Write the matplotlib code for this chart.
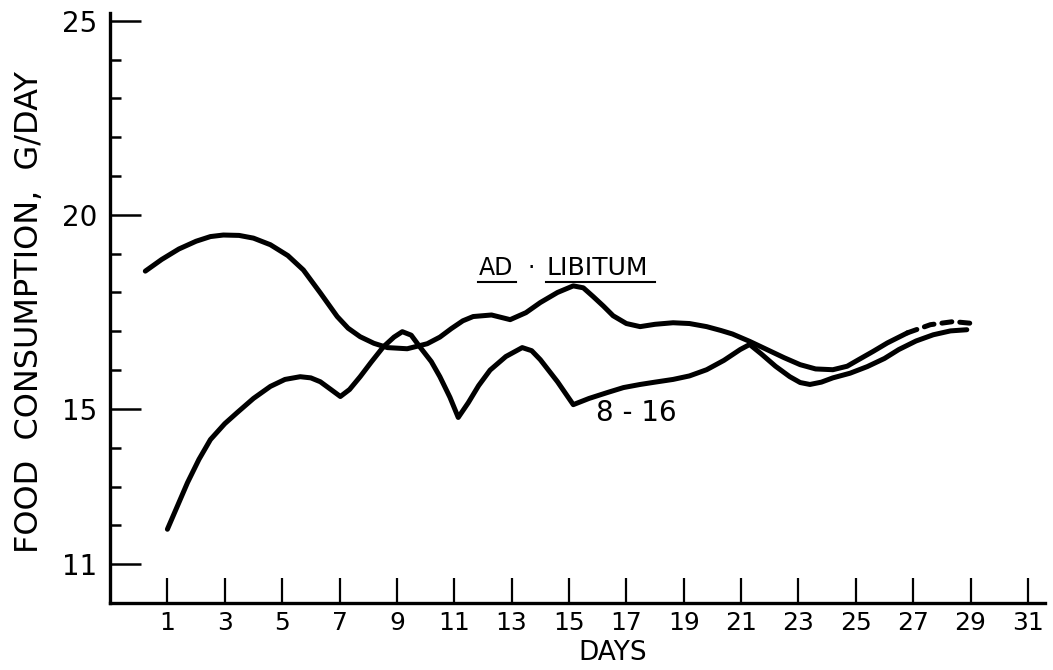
"""
Food consumption per day: ad libitum vs 8-16 feeding.
"""
import matplotlib.pyplot as plt

# values
adlib_days = [0.23, 0.8, 1.4, 2.0, 2.5, 2.95, 3.5, 4.0, 4.59, 5.2, 5.74, 6.33,
              6.92, 7.3, 7.72, 8.2, 8.67, 9.36, 10.06, 10.5, 10.9, 11.3, 11.66,
              12.3, 12.95, 13.5, 14.0, 14.6, 15.15, 15.5, 15.85, 16.2, 16.54,
              17.0, 17.48, 18.0, 18.63, 19.2, 19.8, 20.3, 20.7, 21.3, 21.9, 22.5,
              23.06, 23.6, 24.2, 24.7, 25.1, 25.6, 26.1, 26.8]
adlib_vals = [18.55, 18.85, 19.12, 19.32, 19.44, 19.48, 19.47, 19.40, 19.23, 18.95,
              18.58, 17.99, 17.38, 17.08, 16.86, 16.69, 16.58, 16.55, 16.68, 16.85,
              17.07, 17.27, 17.38, 17.42, 17.30, 17.48, 17.74, 18.0, 18.17, 18.12,
              17.89, 17.65, 17.40, 17.20, 17.12, 17.18, 17.22, 17.20, 17.12, 17.02,
              16.93, 16.74, 16.53, 16.32, 16.14, 16.03, 16.01, 16.10, 16.27, 16.48,
              16.70, 16.96]
adlib_tail_days = [26.8, 27.6, 28.4, 29.1]
adlib_tail_vals = [16.96, 17.17, 17.25, 17.20]

restr_days = [1.0, 1.35, 1.7, 2.1, 2.5, 3.0, 3.44, 4.0, 4.59, 5.1, 5.63, 6.0,
              6.33, 6.7, 7.03, 7.35, 7.72, 8.1, 8.53, 8.9, 9.19, 9.5, 9.8, 10.2,
              10.5, 10.85, 11.14, 11.49, 11.85, 12.25, 12.8, 13.37, 13.7, 14.0,
              14.6, 15.15, 15.7, 16.33, 16.9, 17.48, 18.0, 18.63, 19.2, 19.8,
              20.4, 20.97, 21.3, 21.7, 22.2, 22.7, 23.06, 23.4, 23.8, 24.2, 24.8,
              25.4, 26.0, 26.5, 27.1, 27.7, 28.3, 28.87]
restr_vals = [11.90, 12.50, 13.10, 13.70, 14.21, 14.62, 14.91, 15.27, 15.58, 15.76,
              15.83, 15.80, 15.70, 15.50, 15.32, 15.50, 15.83, 16.20, 16.60, 16.85,
              16.99, 16.90, 16.60, 16.22, 15.83, 15.30, 14.78, 15.16, 15.60, 16.00,
              16.35, 16.58, 16.50, 16.27, 15.70, 15.11, 15.27, 15.42, 15.55, 15.63,
              15.69, 15.76, 15.85, 16.01, 16.25, 16.53, 16.66, 16.42, 16.10, 15.83,
              15.68, 15.63, 15.69, 15.80, 15.92, 16.09, 16.30, 16.53, 16.75, 16.91,
              17.01, 17.04]

day_ticks = list(range(1, 32, 2))
y_major = [11, 15, 20, 25]
y_minor = [12, 13, 14, 16, 17, 18, 19, 21, 22, 23, 24]

plt.rcParams["font.family"] = "DejaVu Sans"

fig = plt.figure(figsize=(10.53, 6.70), dpi=100)
ax = fig.add_axes([0.1045, 0.1, 0.888, 0.8806])

lw = 3.6
ax.plot(adlib_days, adlib_vals, color="black", lw=lw, solid_capstyle="round",
        solid_joinstyle="round")
ax.plot(adlib_tail_days, adlib_tail_vals, color="black", lw=lw,
        linestyle=(0, (2.0, 1.6)), dash_capstyle="round")
ax.plot(restr_days, restr_vals, color="black", lw=lw, solid_capstyle="round",
        solid_joinstyle="round")

ax.set_xlim(-1, 31.6)
ax.set_ylim(10.0, 25.2)

for side in ["top", "right"]:
    ax.spines[side].set_visible(False)
for side in ["left", "bottom"]:
    ax.spines[side].set_linewidth(2.4)

ax.set_xticks(day_ticks)
ax.set_xticklabels([str(d) for d in day_ticks], fontsize=18)
ax.set_yticks(y_major)
ax.set_yticklabels([str(v) for v in y_major], fontsize=20)
ax.set_yticks(y_minor, minor=True)
ax.tick_params(axis="x", direction="in", length=18, width=1.6, pad=6)
ax.tick_params(axis="y", which="major", direction="in", length=22, width=1.8, pad=9)
ax.tick_params(axis="y", which="minor", direction="in", length=8, width=1.8)

# curve labels
ax.text(11.84, 18.63, "AD", fontsize=17, ha="left", va="center")
ax.text(13.68, 18.63, "\u00b7", fontsize=17, ha="center", va="center")
ax.text(14.2, 18.63, "LIBITUM", fontsize=18, ha="left", va="center")
ax.plot([11.84, 13.15], [18.28, 18.28], color="black", lw=1.5)
ax.plot([14.2, 18.0], [18.28, 18.28], color="black", lw=1.5)
ax.text(17.34, 14.9, "8 - 16", fontsize=20, ha="center", va="center")

fig.text(613 / 1053, 1 - 653 / 670, "DAYS", fontsize=19, ha="center", va="center")
fig.text(30 / 1053, 1 - 312 / 670, "FOOD  CONSUMPTION,  G/DAY", fontsize=23,
         rotation=90, ha="center", va="center")

fig.savefig("out.png", dpi=100)
